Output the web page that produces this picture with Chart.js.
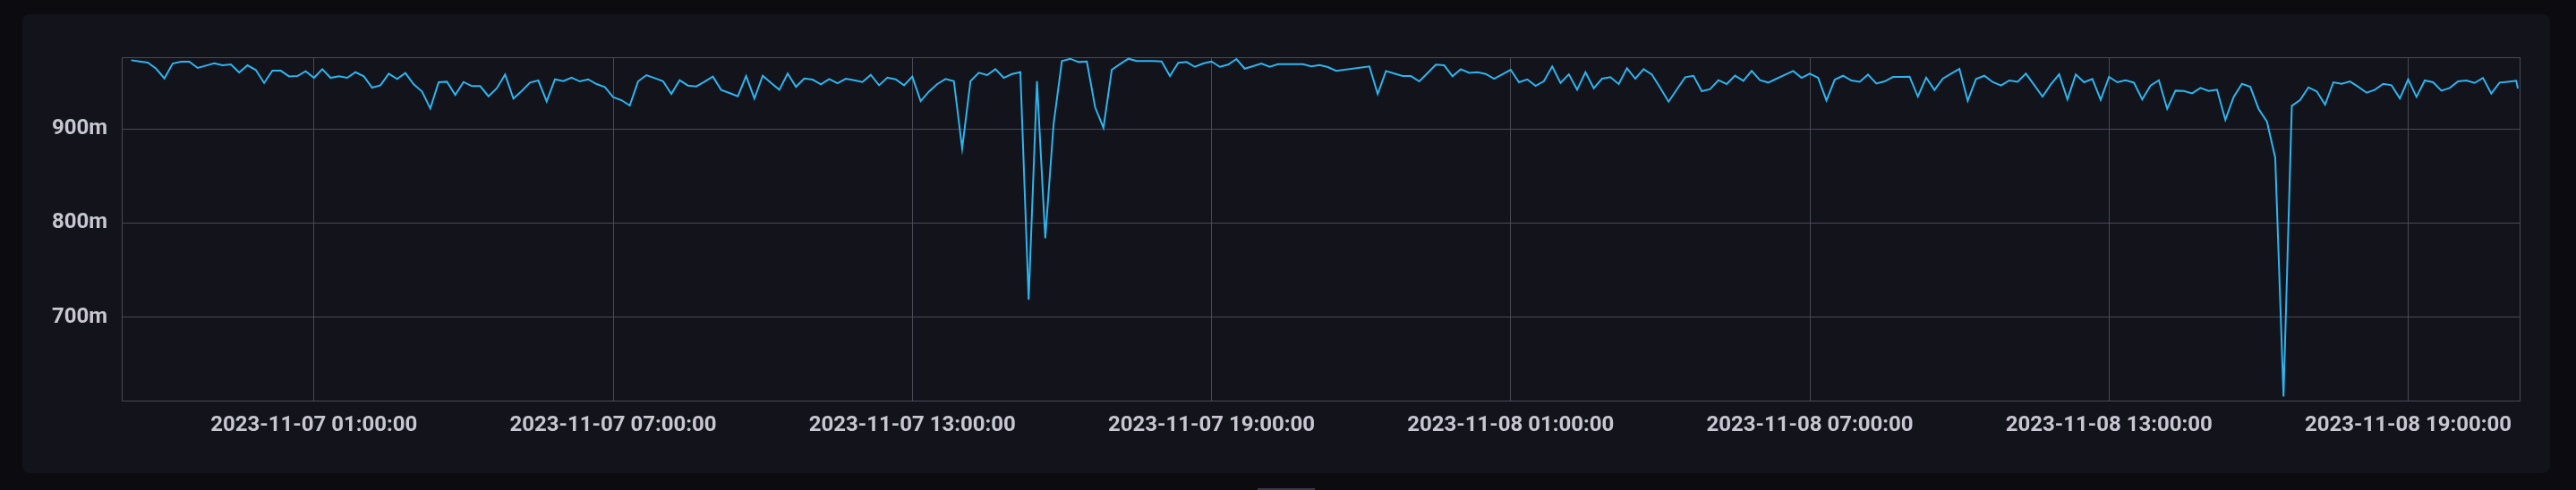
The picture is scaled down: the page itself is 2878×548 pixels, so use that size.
<!DOCTYPE html>
<html>
<head>
<meta charset="utf-8">
<title>Gauge over two days</title>
<script src="https://cdn.jsdelivr.net/npm/chart.js@4.4.0/dist/chart.umd.min.js"></script>
<style>
  html, body { margin: 0; padding: 0; background: #0b0b10; }
  body { width: 2878px; height: 548px; position: relative; overflow: hidden; }
  .panel { position: absolute; left: 25px; top: 16px; width: 2824px; height: 513px; background: #13131c; border-radius: 8px; }
  .scroll { position: absolute; left: 1405px; top: 546px; width: 64px; height: 2px; background: #3a3949; }
  #wrap { position: absolute; left: 0; top: 0; width: 2878px; height: 548px; }
</style>
</head>
<body>
<div class="panel"></div>
<div class="scroll"></div>
<div id="wrap"><canvas id="chart" width="2878" height="548"></canvas></div>
<script>
// samples every 10 minutes, starting here
const seriesStart = '2023-11-06 21:20';
const stepMinutes = 10;
const values = [
    972.8, 971.5, 970.3, 963.9, 953.5, 969.3, 971.2, 971.2, 964.6, 967.1,
    969.6, 967.4, 968.4, 959.8, 967.4, 962.4, 948.7, 961.7, 961.7, 955.7,
    956.0, 961.1, 954.1, 963.3, 954.1, 955.7, 954.1, 960.1, 955.7, 943.7,
    946.2, 958.6, 952.9, 959.2, 947.2, 939.6, 921.5, 949.4, 950.0, 936.1,
    949.7, 945.3, 945.3, 934.5, 943.1, 957.6, 932.0, 940.2, 949.1, 951.3,
    929.1, 952.5, 950.6, 954.4, 950.3, 952.5, 947.5, 944.3, 933.6, 930.4,
    924.7, 950.3, 957.0, 953.8, 950.6, 937.0, 951.6, 945.9, 945.0, 950.0,
    955.4, 941.2, 938.0, 934.5, 956.0, 932.3, 956.3, 948.7, 941.5, 958.6,
    944.6, 953.5, 952.2, 947.2, 952.9, 948.4, 953.2, 951.6, 949.7, 957.3,
    946.2, 954.4, 952.5, 946.2, 955.4, 929.4, 939.5, 947.5, 952.9, 950.6,
    879.0, 950.6, 959.5, 957.0, 963.3, 954.1, 958.2, 960.1, 718.6, 950.5,
    783.7, 905.0, 971.9, 974.4, 970.9, 971.5, 922.8, 901.0, 962.7, 968.7,
    974.4, 971.9, 971.9, 971.9, 971.5, 956.0, 970.0, 970.9, 965.8, 969.3,
    971.5, 965.8, 968.1, 974.1, 963.9, 966.5, 969.3, 965.8, 968.7, 968.7,
    968.7, 968.7, 966.2, 967.7, 965.5, 961.5, null, null, null, 966.2,
    937.0, 961.4, 958.6, 956.0, 956.0, 950.3, 959.2, 968.1, 967.4, 955.7,
    963.3, 959.5, 960.1, 958.2, 953.2, 957.9, 962.7, 949.4, 952.5, 945.6,
    950.6, 966.2, 948.7, 957.9, 941.5, 960.1, 943.1, 953.2, 954.8, 947.5,
    964.3, 953.2, 963.3, 957.6, 943.4, 928.8, 941.8, 954.8, 956.3, 939.9,
    942.1, 951.6, 947.5, 956.5, 951.0, 961.4, 951.6, 949.1, 953.2, 957.3,
    961.4, 954.1, 958.6, 954.1, 930.1, 952.2, 956.3, 951.3, 950.0, 957.6,
    948.1, 950.3, 955.1, 955.1, 955.4, 934.2, 954.4, 941.2, 953.2, 958.6,
    963.6, 929.8, 952.9, 956.3, 949.7, 945.9, 951.3, 950.0, 958.6, 946.5,
    934.2, 947.2, 957.9, 931.3, 957.6, 949.4, 952.9, 930.7, 955.1, 949.4,
    951.6, 949.0, 931.3, 945.9, 951.6, 921.2, 940.5, 940.2, 937.7, 943.4,
    940.2, 941.5, 909.5, 933.9, 947.8, 944.6, 921.2, 907.8, 869.5, 615.7,
    924.4, 930.7, 944.0, 939.6, 925.6, 949.4, 947.8, 950.3, 944.6, 938.3,
    941.5, 947.8, 946.2, 932.3, 952.5, 933.9, 951.3, 949.4, 940.5, 943.4,
    950.3, 951.3, 948.7, 954.1, 937.4, 949.1, 950.0, 951.0
];
const lastSample = ['2023-11-08 21:12', 942.7];

const rangeStart = '2023-11-06 21:08:40';
const rangeEnd = '2023-11-08 21:15:10';
const xTickLabels = [
    '2023-11-07 01:00:00', '2023-11-07 07:00:00', '2023-11-07 13:00:00', '2023-11-07 19:00:00',
    '2023-11-08 01:00:00', '2023-11-08 07:00:00', '2023-11-08 13:00:00', '2023-11-08 19:00:00'
];
const yTickValues = [700, 800, 900];
const yMin = 611.4;
const yMax = 976;

// parse 'YYYY-MM-DD HH:MM[:SS]' as UTC millis
function toMs(s) {
    const parts = s.split(' ');
    const d = parts[0].split('-').map(Number);
    const t = parts[1].split(':').map(Number);
    return Date.UTC(d[0], d[1] - 1, d[2], t[0], t[1], t[2] || 0);
}

const startMs = toMs(seriesStart);
const points = values.map((v, i) => ({ x: startMs + i * stepMinutes * 60000, y: v }));
points.push({ x: toMs(lastSample[0]), y: lastSample[1] });

const labelByMs = {};
xTickLabels.forEach(l => { labelByMs[toMs(l)] = l; });

const gridColor = '#4a4955';
const textColor = '#c8c7d1';
const tickFont = { family: 'Roboto', size: 24, weight: 'bold' };

// border all round the plot area
const frame = {
    id: 'frame',
    beforeDatasetsDraw(chart) {
        const a = chart.chartArea;
        const ctx = chart.ctx;
        ctx.save();
        ctx.strokeStyle = gridColor;
        ctx.lineWidth = 1;
        ctx.strokeRect(a.left + 0.5, a.top + 0.5, a.right - a.left - 1, a.bottom - a.top);
        ctx.restore();
    }
};

new Chart(document.getElementById('chart').getContext('2d'), {
    type: 'line',
    data: {
        datasets: [{
            data: points,
            borderColor: '#2cb5ee',
            borderWidth: 2,
            pointRadius: 0,
            tension: 0,
            fill: false,
            spanGaps: true
        }]
    },
    options: {
        responsive: false,
        animation: false,
        layout: { padding: { left: 0, top: 64, right: 62, bottom: 0 } },
        plugins: { legend: { display: false }, tooltip: { enabled: false } },
        scales: {
            x: {
                type: 'linear',
                min: toMs(rangeStart),
                max: toMs(rangeEnd),
                afterBuildTicks: scale => { scale.ticks = xTickLabels.map(l => ({ value: toMs(l) })); },
                afterFit: scale => { scale.height = 100; },
                grid: { color: gridColor, lineWidth: 1, drawTicks: false },
                border: { display: false },
                ticks: {
                    autoSkip: false,
                    maxRotation: 0,
                    padding: 14,
                    color: textColor,
                    font: tickFont,
                    callback: v => labelByMs[v] || ''
                }
            },
            y: {
                min: yMin,
                max: yMax,
                afterBuildTicks: scale => { scale.ticks = yTickValues.map(v => ({ value: v })); },
                afterFit: scale => { scale.width = 136; },
                grid: { color: gridColor, lineWidth: 1, drawTicks: false },
                border: { display: false },
                ticks: {
                    padding: 16,
                    color: textColor,
                    font: tickFont,
                    callback: v => v + 'm'
                }
            }
        }
    },
    plugins: [frame]
});
</script>
</body>
</html>
